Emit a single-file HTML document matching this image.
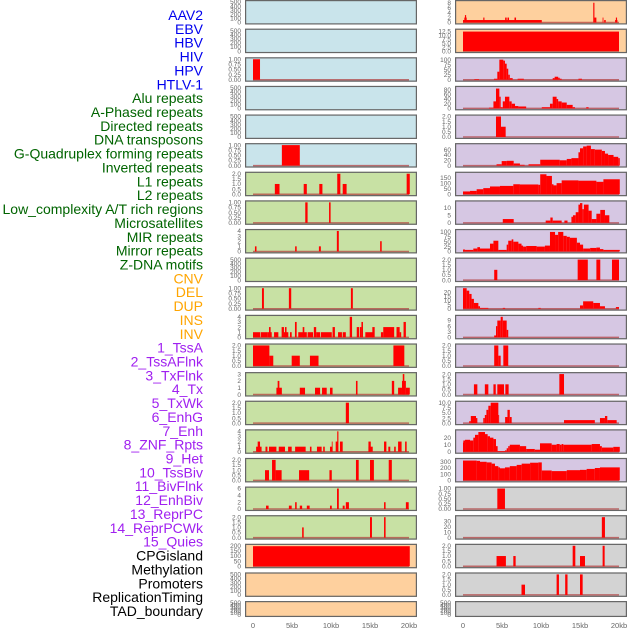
<!DOCTYPE html>
<html><head><meta charset="utf-8"><style>
html,body{margin:0;padding:0;background:#fff;}
svg{display:block;font-family:"Liberation Sans",sans-serif;}
</style></head><body>
<svg id="chart" width="630" height="630" viewBox="0 0 630 630" xmlns="http://www.w3.org/2000/svg"></svg>
<script>
// ---- data ----
const trackLabels = ["AAV2","EBV","HBV","HIV","HPV","HTLV-1","Alu repeats","A-Phased repeats","Directed repeats","DNA transposons","G-Quadruplex forming repeats","Inverted repeats","L1 repeats","L2 repeats","Low_complexity A/T rich regions","Microsatellites","MIR repeats","Mirror repeats","Z-DNA motifs","CNV","DEL","DUP","INS","INV","1_TssA","2_TssAFlnk","3_TxFlnk","4_Tx","5_TxWk","6_EnhG","7_Enh","8_ZNF_Rpts","9_Het","10_TssBiv","11_BivFlnk","12_EnhBiv","13_ReprPC","14_ReprPCWk","15_Quies","CPGisland","Methylation","Promoters","ReplicationTiming","TAD_boundary"];
const labelGroups = ["v","v","v","v","v","v","r","r","r","r","r","r","r","r","r","r","r","r","r","s","s","s","s","s","c","c","c","c","c","c","c","c","c","c","c","c","c","c","c","o","o","o","o","o"];
const xTickLabels = ["0","5kb","10kb","15kb","20kb"];
const xTickValues = [0,5,10,15,20];

const T500 = ["0","100","200","300","400","500"];
const T1 = ["0.00","0.25","0.50","0.75","1.00"];
const T2 = ["0.0","0.5","1.0","1.5","2.0"];
const T3 = ["0","1","2","3"];
const T4 = ["0","1","2","3","4"];
const T6 = ["0","2","4","6"];
const T8 = ["0","2","4","6","8"];
const T12 = ["0.0","2.5","5.0","7.5","10.0","12.5"];
const T10 = ["0.0","2.5","5.0","7.5","10.0"];
const T100 = ["0","25","50","75","100"];
const T80 = ["0","20","40","60","80"];
const T60 = ["0","20","40","60"];
const T150 = ["0","50","100","150"];
const T200 = ["0","50","100","150","200"];
const TEnhG = ["0","5","10"];
const THet = ["0","5","10","15","20"];
const TBiv = ["0","3","6","9"];
const TPCWk = ["0","10","20"];
const TQuies = ["0","100","200","300"];
const TMeth = ["0","10","20","30"];

// segments: [startKb, endKb, value]
const segHBV = [[0,0.9,1]];
const segHTLV = [[3.7,6.0,1]];
const segAlu = [[2.8,3.4,1],[6.5,6.9,1],[8.5,8.9,1],[10.8,11.2,2],[11.5,12.0,1],[19.7,20.1,2]];
const segAPhased = [[6.7,7.0,1],[9.75,9.95,1]];
const segDirected = [[0.25,0.45,1],[5.4,5.6,1],[8.45,8.7,1],[10.75,11.0,4],[16.3,16.5,2]];
const segGQuad = [[1.15,1.4,1],[4.6,4.9,1],[12.55,12.8,1]];
const segInverted = [[0,0.9,1],[0.98,1.84,1],[1.84,2.4,1],[2.05,2.26,2],[2.7,3.25,1],[3.67,3.97,2],[3.97,4.53,1],[4.1,4.3,2],[4.74,4.96,1],[5.38,5.6,3],[5.8,6.9,1],[6.37,6.58,2],[7.0,7.7,1],[7.8,8.1,2],[8.1,8.6,1],[8.7,10.1,1],[10.2,10.5,2],[10.9,11.4,1],[11.5,11.9,1],[12.4,12.7,4],[13.3,13.6,2],[13.7,13.9,2],[13.9,14.1,3],[14.4,15.4,1],[15.3,15.6,2],[16.4,16.7,1],[16.7,18.1,2],[18.4,18.8,2],[18.8,19.0,1],[19.3,19.6,3]];
const segL1 = [[0,2.1,2],[2.1,2.6,1],[4.96,6.0,1],[7.3,8.4,1],[18.0,19.4,2]];
const segL2 = [[3.0,3.7,1],[3.16,3.38,2],[6.0,6.67,1],[7.95,8.6,1],[8.85,9.45,1],[9.87,10.2,1],[13.2,13.4,2],[17.8,18.1,2],[18.6,19.1,1],[19.1,19.6,2],[19.2,19.4,3],[19.6,20.1,1]];
const segLowComp = [[11.9,12.3,2]];
const segMicro = [[0.4,1.1,1],[0.6,0.9,2],[1.6,1.85,1],[2.05,3.0,1],[3.3,4.1,1],[4.5,4.96,1],[5.4,6.75,1],[7.3,7.5,1],[8.2,8.8,1],[9.0,9.2,1],[9.87,10.2,1],[10.1,10.2,2],[10.6,10.9,2],[10.8,10.95,4],[11.15,11.5,2],[14.8,15.35,1],[14.8,15.1,2],[16.8,17.1,2],[17.35,17.6,1],[18.1,18.3,1],[18.6,19.05,2],[19.5,19.7,2]];
const segMIR = [[1.54,2.05,1],[2.44,2.9,2],[2.9,3.67,1],[5.9,7.2,1],[9.8,10.1,1],[13.2,13.55,2],[15.0,15.5,2],[17.4,17.8,2]];
const segMirror = [[1.67,2.0,1],[4.6,4.96,1],[5.4,5.6,2],[6.0,6.3,1],[6.9,7.26,1],[9.87,10.1,1],[10.77,11.0,6],[11.5,11.75,1],[11.9,12.3,2],[16.8,17.0,2],[19.6,19.96,2]];
const segZDNA = [[6.3,6.5,1],[15.0,15.25,2],[16.8,17.0,2]];
const segCNV = [[0,20.1,196]];
const segINS = [[0,10.1,1],[0.17,0.47,2],[0.25,0.4,3],[2.6,2.75,2],[5.4,5.6,2],[5.7,5.9,2],[6.6,6.8,2],[16.7,16.85,8],[16.85,17.1,2],[17.9,18.0,2],[18.1,18.3,1],[19.5,19.8,1],[19.6,19.75,2]];
const segINV = [[0,20.0,12.2]];
const segTssA = [[1.45,2.05,3],[3.97,4.4,5],[4.4,4.66,40],[4.66,5.17,100],[5.17,5.38,95],[5.38,5.6,80],[5.6,5.8,55],[5.8,6.0,25],[6.0,6.37,8],[7.0,7.8,5],[11.5,11.75,8],[11.75,12.2,15],[12.2,12.4,10],[12.4,12.65,5],[14.8,15.25,5]];
const segTssAFlnk = [[3.33,3.9,3],[3.9,4.23,30],[4.23,4.66,85],[4.66,4.83,50],[4.83,5.1,5],[5.1,5.38,30],[5.38,5.94,50],[5.94,6.24,30],[6.24,6.67,20],[6.67,7.1,10],[7.1,8.1,8],[10.1,11.15,5],[11.15,11.5,20],[11.5,12.0,50],[12.0,12.2,40],[12.2,12.65,30],[12.65,13.3,25],[13.3,14.06,15],[14.06,14.36,5],[15.8,16.1,5]];
const segTxFlnk = [[4.23,4.87,2],[4.87,5.47,1]];
const segTx = [[4.3,4.96,5],[4.96,5.6,17],[5.6,6.5,18],[6.5,7.3,8],[7.3,7.9,3],[8.4,9.9,5],[9.9,12.4,22],[12.4,13.3,20],[13.3,13.9,25],[13.9,14.8,28],[14.8,15.0,50],[15.0,15.4,65],[15.4,15.85,72],[15.85,16.4,75],[16.4,16.9,62],[16.9,17.8,60],[17.8,18.2,55],[18.2,18.6,45],[18.6,19.3,40],[19.3,19.9,33],[19.9,20.1,28]];
const segTxWk = [[0,0.9,25],[0.9,1.75,30],[1.75,2.6,45],[2.6,3.46,55],[3.46,4.74,70],[4.74,6.45,75],[6.45,7.3,90],[7.3,9.66,88],[9.66,9.9,85],[9.9,10.7,180],[10.7,11.4,165],[11.4,11.6,90],[11.6,12.0,80],[12.0,12.65,100],[12.65,14.8,125],[14.8,17.1,122],[17.1,18.0,112],[18.0,20.1,135]];
const segEnhG = [[5.1,6.5,2.5],[10.6,11.2,1.5],[11.2,11.5,3.5],[11.5,12.65,1.5],[13.0,13.4,1.5],[13.9,14.1,4],[14.1,14.45,5],[14.45,14.8,7],[14.8,15.0,12],[15.0,15.3,13],[15.3,15.5,9],[15.5,16.1,12],[16.1,16.5,8],[16.5,17.1,2.5],[17.1,17.6,6],[17.6,18.2,8.5],[18.2,18.76,5]];
const segEnh = [[0,0.26,10],[0.26,1.32,8],[1.32,1.84,15],[1.84,2.18,22],[2.18,3.46,15],[3.46,3.9,40],[3.9,4.53,55],[4.53,5.6,8],[5.6,5.8,35],[5.8,6.24,55],[6.24,6.45,62],[6.45,7.1,50],[7.1,7.5,40],[7.5,7.7,30],[7.7,8.1,25],[8.1,9.44,28],[9.44,10.5,25],[10.5,11.15,30],[11.15,11.8,100],[11.8,12.2,85],[12.2,12.86,100],[12.86,13.3,80],[13.3,13.7,75],[13.7,14.6,70],[14.6,15.0,45],[15.0,15.4,35],[15.4,16.3,15],[16.3,17.1,18],[17.1,17.56,20],[17.56,18.0,12],[18.0,20.1,8]];
const segZNF = [[4.0,4.4,1],[14.7,16.0,2],[17.1,17.6,2],[19.1,20.0,2]];
const segHet = [[0,0.47,25],[0.47,0.8,22],[0.8,1.1,18],[1.1,1.4,12],[1.4,1.97,7],[1.97,2.18,3],[2.18,3.25,1],[5.1,5.4,1],[9.66,9.96,1],[15.0,15.4,4],[15.4,16.7,9],[16.7,17.56,7],[17.56,18.2,3],[19.6,20.0,2]];
const segTssBiv = [[4.0,4.23,1],[4.23,4.4,6],[4.4,4.83,9],[4.83,5.1,11],[5.1,5.6,9],[5.6,5.8,4]];
const segBivFlnk = [[4.0,4.53,2],[4.53,4.83,1],[5.17,5.8,2]];
const segEnhBiv = [[1.4,1.84,1],[2.8,3.25,1],[3.9,4.2,1],[4.4,5.26,1],[5.43,5.85,1],[12.35,12.95,2]];
const segReprPC = [[0.8,1.0,1],[1.0,1.67,3.5],[1.67,1.84,2.5],[2.6,2.8,2.5],[2.8,3.0,4],[3.0,3.25,6.5],[3.25,3.55,8.5],[3.55,4.53,10],[4.53,4.6,4],[5.4,5.7,3],[5.7,6.0,6.5],[6.0,6.24,3],[12.95,16.9,1.5],[17.56,18.2,2.5],[18.2,18.5,3.5],[18.5,19.7,1.5]];
const segReprPCWk = [[0,0.04,13],[0.04,0.26,16],[0.26,0.9,17],[0.9,1.32,16],[1.32,1.54,20],[1.54,1.97,24],[1.97,2.82,28],[2.82,3.16,25],[3.16,3.46,22],[3.46,3.9,20],[3.9,4.23,18],[4.23,4.44,8],[4.44,5.38,1],[5.38,5.6,2],[5.6,5.8,5],[5.8,6.0,8],[6.0,7.3,10],[7.3,8.1,8],[8.1,9.2,4],[9.2,9.87,3],[9.87,11.37,12],[11.37,12.0,10],[12.0,12.4,11],[12.4,12.65,10],[12.65,12.86,11],[12.86,16.5,10],[16.5,17.56,11],[17.56,17.8,8],[17.8,19.27,6],[19.27,20.1,7]];
const segQuies = [[0,1.75,320],[1.75,2.18,315],[2.18,3.03,300],[3.03,3.67,290],[3.67,4.1,270],[4.1,4.53,230],[4.53,4.74,210],[4.74,5.38,195],[5.38,6.0,210],[6.0,6.88,230],[6.88,7.52,250],[7.52,8.6,270],[8.6,9.66,285],[9.66,10.1,290],[10.1,11.37,160],[11.37,13.3,150],[13.3,15.0,165],[15.0,15.85,170],[15.85,16.9,185],[16.9,17.56,200],[17.56,20.1,210]];
const segCPG = [[4.4,5.38,1]];
const segMeth = [[17.8,18.2,38]];
const segPromoters = [[4.3,5.0,1],[5.0,5.5,1],[6.45,6.75,1],[14.06,14.4,2],[15.0,15.64,1],[17.9,18.16,2]];
const segRepTiming = [[7.5,7.95,1],[12.0,12.3,2],[13.1,13.4,2],[15.0,15.34,2]];

// per-panel: [segments, ticks, ymax]
const panelSpecs = [
 [null,T500,500],[null,T500,500],[segHBV,T1,1],[null,T500,500],[null,T500,500],[segHTLV,T1,1],
 [segAlu,T2,2],[segAPhased,T1,1],[segDirected,T4,4],[null,T500,500],[segGQuad,T1,1],[segInverted,T4,4],
 [segL1,T2,2],[segL2,T3,3],[segLowComp,T2,2],[segMicro,T4,4],[segMIR,T2,2],[segMirror,T6,6],[segZDNA,T2,2],
 [segCNV,T200,200],[null,T500,500],[null,T500,500],
 [segINS,T8,8.3],[segINV,T12,12.8],[segTssA,T100,102],[segTssAFlnk,T80,88],[segTxFlnk,T2,2],[segTx,T60,77],
 [segTxWk,T150,185],[segEnhG,TEnhG,13.5],[segEnh,T100,105],[segZNF,T2,2],[segHet,THet,25],[segTssBiv,TBiv,11],
 [segBivFlnk,T2,2],[segEnhBiv,T2,2],[segReprPC,T10,10],[segReprPCWk,TPCWk,29],[segQuies,TQuies,330],
 [segCPG,T1,1],[segMeth,TMeth,38],[segPromoters,T2,2],[segRepTiming,T2,2],[null,T500,500]
];

// ---- render ----
const NS = "http://www.w3.org/2000/svg";
const svg = document.getElementById("chart");
function mk(tag, attrs, parent){ const e=document.createElementNS(NS,tag); for(const k in attrs) e.setAttribute(k,attrs[k]); (parent||svg).appendChild(e); return e; }
const groupColor = {v:"#0000ee", r:"#006400", s:"#ffa500", c:"#a020f0", o:"#000000"};
const bgColor = {v:"#c9e4eb", r:"#c8e1a4", s:"#fed09e", c:"#d6c7e3", o:"#d3d3d3"};

// labels
trackLabels.forEach((lab,i)=>{
  const t = mk("text",{x:203,y:15+i*13.86+5,"text-anchor":"end","font-size":"14",fill:groupColor[labelGroups[i]]});
  
  
  t.textContent = lab;
});

const colLeft = [245,455];
const panelW = 172;
function xScale(col, kb){ return colLeft[col] + 8 + kb*7.8; }

panelSpecs.forEach((spec,i)=>{
  const col = i<22?0:1, row = i%22;
  const top = row*28.62;
  const h = row===21?16:24.5;
  const grp = labelGroups[i];
  const g = mk("g",{});
  
  
  const x0 = colLeft[col];
  mk("rect",{x:x0,y:top,width:panelW,height:h,fill:bgColor[grp]},g);
  const segs = spec[0], ticks = spec[1], ymax = spec[2];
  const base = top+h-2, scale=(h-4)/ymax;
  const yS = v => base - v*scale;
  if(segs){
    mk("line",{x1:xScale(col,0),x2:xScale(col,20),y1:base,y2:base,stroke:"#b03a3a","stroke-width":1.5,"stroke-opacity":0.7},g);
    segs.forEach(s=>{
      const r = mk("rect",{x:xScale(col,s[0]),y:yS(s[2]),width:Math.max(0.8,(s[1]-s[0])*7.8),height:s[2]*scale,fill:"#ff0000"},g);
      
      
    });
  }
  mk("rect",{x:x0+0.6,y:top+0.6,width:panelW-1.2,height:h-1.2,fill:"none",stroke:"#666","stroke-width":1.2},g);
  ticks.forEach(tl=>{
    const v=parseFloat(tl);
    const t=mk("text",{x:x0-4,y:yS(v)+2.2,"text-anchor":"end","font-size":"6.5",fill:"#666"},g);
    
    
    t.textContent=tl;
  });
});

// x axes
[0,1].forEach(col=>{
  xTickValues.forEach((v,j)=>{
    const t=mk("text",{x:xScale(col,v),y:628,"text-anchor":"middle","font-size":"7.5",fill:"#666"});
    
    
    t.textContent=xTickLabels[j];
  });
});
</script>
</body></html>
